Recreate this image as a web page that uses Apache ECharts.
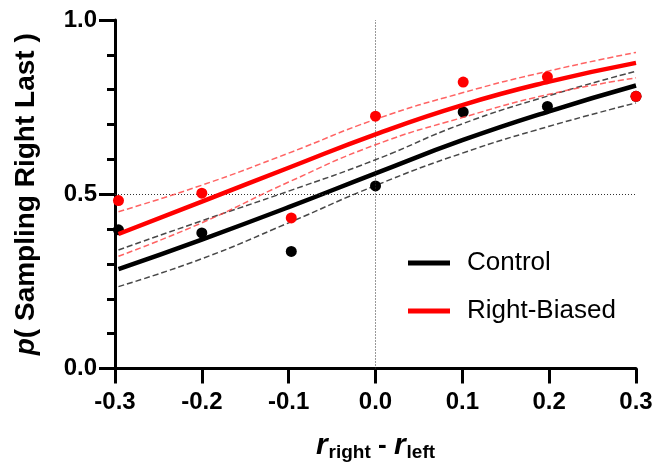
<!DOCTYPE html>
<html>
<head>
<meta charset="utf-8">
<script src="https://cdn.jsdelivr.net/npm/echarts@6/dist/echarts.min.js"></script>
<style>
html, body { margin: 0; padding: 0; background: #fff; }
#chart { width: 659px; height: 463px; }
</style>
</head>
<body>
<div id="chart"></div>
<script>
// fitted curves
var xCurve = [-0.296, -0.2, -0.1, 0, 0.1, 0.2, 0.3];
var controlFit = [0.285, 0.370, 0.463, 0.560, 0.655, 0.738, 0.812];
var controlUpper = [0.340, 0.424, 0.509, 0.599, 0.702, 0.783, 0.853];
var controlLower = [0.235, 0.315, 0.418, 0.525, 0.618, 0.695, 0.762];
var rightFit = [0.386, 0.479, 0.576, 0.672, 0.756, 0.823, 0.877];
var rightUpper = [0.450, 0.526, 0.618, 0.715, 0.791, 0.854, 0.907];
var rightLower = [0.322, 0.418, 0.535, 0.642, 0.720, 0.787, 0.834];

// observed points
var xPts = [-0.296, -0.2, -0.097, 0, 0.101, 0.198, 0.3];
var controlPts = [0.398, 0.389, 0.336, 0.524, 0.736, 0.752, 0.781];
var rightPts = [0.482, 0.503, 0.432, 0.724, 0.822, 0.837, 0.781];

var xTicks = [-0.3, 0.3, 0.1];
var yTicks = [0, 1, 0.5];

function pairs(xs, ys) {
    var out = [];
    for (var i = 0; i < xs.length; i++) {
        out.push([xs[i], ys[i]]);
    }
    return out;
}

var FONT = '"Liberation Sans", Arial, sans-serif';
var RED = '#ff0000';
var SMOOTH = 0.5;

var chart = echarts.init(document.getElementById('chart'));

function dashed(name, ys, color, z) {
    return {
        name: name,
        type: 'line',
        data: pairs(xCurve, ys),
        smooth: SMOOTH,
        symbol: 'none',
        silent: true,
        z: z,
        lineStyle: { color: color, width: 1.5, type: [6, 3] }
    };
}

var option = {
    animation: false,
    backgroundColor: '#fff',
    grid: { left: 115, right: 23, top: 20, bottom: 94.5, outerBoundsMode: 'none', containLabel: false },
    legend: {
        data: ['Control', 'Right-Biased'],
        orient: 'vertical',
        left: 403,
        top: 245,
        icon: 'rect',
        itemWidth: 42,
        itemHeight: 5,
        itemGap: 22,
        textStyle: {
            fontFamily: FONT,
            fontSize: 26,
            color: '#000',
            padding: [0, 0, 0, 12]
        }
    },
    xAxis: {
        type: 'value',
        min: xTicks[0],
        max: xTicks[1],
        interval: xTicks[2],
        splitLine: { show: false },
        axisLine: { onZero: false, lineStyle: { color: '#000', width: 3 } },
        axisTick: { length: 15, lineStyle: { color: '#000', width: 3 } },
        axisLabel: {
            margin: 22,
            color: '#000',
            fontFamily: FONT,
            fontWeight: 'bold',
            fontSize: 24,
            formatter: function (v) {
                var s = v.toFixed(1);
                return s === '-0.0' ? '0.0' : s;
            }
        },
        name: '{r|r}{s|right}{m| - }{r|r}{s|left}',
        nameLocation: 'middle',
        nameGap: 61,
        nameTextStyle: {
            rich: {
                r: { fontFamily: FONT, fontSize: 30, fontWeight: 'bold', fontStyle: 'italic', color: '#000' },
                s: { fontFamily: FONT, fontSize: 19, fontWeight: 'bold', color: '#000', padding: [14, 0, 0, 1] },
                m: { fontFamily: FONT, fontSize: 26, fontWeight: 'bold', color: '#000' }
            }
        }
    },
    yAxis: {
        type: 'value',
        min: yTicks[0],
        max: yTicks[1],
        interval: yTicks[2],
        splitLine: { show: false },
        axisLine: { onZero: false, lineStyle: { color: '#000', width: 3 } },
        axisTick: { length: 16, lineStyle: { color: '#000', width: 3 } },
        minorTick: { show: true, splitNumber: 5, length: 8, lineStyle: { color: '#000', width: 3 } },
        axisLabel: {
            margin: 18,
            color: '#000',
            fontFamily: FONT,
            fontWeight: 'bold',
            fontSize: 24,
            formatter: function (v) { return v.toFixed(1); }
        },
        name: '{i|p}{b|( Sampling Right Last )}',
        nameLocation: 'middle',
        nameGap: 75,
        nameTextStyle: {
            rich: {
                i: { fontFamily: FONT, fontSize: 28, fontWeight: 'bold', fontStyle: 'italic', color: '#000' },
                b: { fontFamily: FONT, fontSize: 28, fontWeight: 'bold', color: '#000' }
            }
        }
    },
    series: [
        {
            name: 'ref',
            type: 'line',
            data: [],
            silent: true,
            z: 1,
            markLine: {
                silent: true,
                symbol: 'none',
                label: { show: false },
                lineStyle: { color: '#333', width: 1, type: [1, 2] },
                data: [
                    [{ coord: [0, 0] }, { coord: [0, 1] }],
                    [{ coord: [-0.3, 0.5] }, { coord: [0.3, 0.5] }]
                ]
            }
        },
        dashed('controlUpper', controlUpper, 'rgba(40,40,40,0.85)', 2),
        dashed('controlLower', controlLower, 'rgba(40,40,40,0.85)', 2),
        {
            name: 'Control',
            type: 'line',
            data: pairs(xCurve, controlFit),
            smooth: SMOOTH,
            symbol: 'none',
            z: 3,
            itemStyle: { color: '#000' },
            lineStyle: { color: '#000', width: 4.5 }
        },
        {
            name: 'controlPts',
            type: 'scatter',
            data: pairs(xPts, controlPts),
            symbolSize: 11,
            z: 4,
            itemStyle: { color: '#000', opacity: 1 }
        },
        dashed('rightUpper', rightUpper, 'rgba(255,60,60,0.8)', 5),
        dashed('rightLower', rightLower, 'rgba(255,60,60,0.8)', 5),
        {
            name: 'Right-Biased',
            type: 'line',
            data: pairs(xCurve, rightFit),
            smooth: SMOOTH,
            symbol: 'none',
            z: 6,
            itemStyle: { color: RED },
            lineStyle: { color: RED, width: 4.5 }
        },
        {
            name: 'rightPts',
            type: 'scatter',
            data: pairs(xPts, rightPts),
            symbolSize: 11,
            z: 7,
            itemStyle: { color: RED, opacity: 1 }
        }
    ]
};

chart.setOption(option);
</script>
</body>
</html>
